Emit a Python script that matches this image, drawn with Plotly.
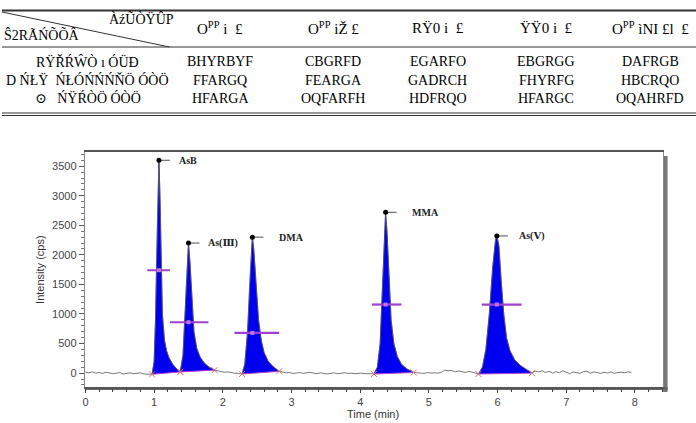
import plotly.graph_objects as go

W, H = 696, 423

# ---------------- data ----------------
peak_names = ["AsB", "As(Ⅲ)", "DMA", "MMA", "As(Ⅴ)"]

asb_t = [0.97, 1.00, 1.02, 1.04, 1.055, 1.07, 1.085, 1.10, 1.12, 1.15, 1.18, 1.22, 1.27, 1.32, 1.38]
asb_y = [-20, 200, 900, 2200, 3300, 3600, 3000, 1800, 1000, 560, 380, 250, 150, 80, 20]

as3_t = [1.38, 1.42, 1.45, 1.48, 1.50, 1.52, 1.55, 1.58, 1.62, 1.67, 1.73, 1.80, 1.88]
as3_y = [20, 300, 1000, 1900, 2200, 1900, 1200, 700, 420, 270, 170, 100, 50]

dma_t = [2.28, 2.32, 2.36, 2.39, 2.42, 2.43, 2.45, 2.48, 2.52, 2.56, 2.60, 2.66, 2.73, 2.82]
dma_y = [-15, 150, 700, 1500, 2250, 2300, 2100, 1500, 900, 550, 350, 200, 110, 30]

mma_t = [4.20, 4.25, 4.29, 4.32, 4.35, 4.37, 4.39, 4.42, 4.45, 4.49, 4.54, 4.60, 4.68, 4.78]
mma_y = [-15, 100, 500, 1300, 2300, 2720, 2400, 1600, 900, 500, 280, 150, 70, 10]

as5_t = [5.72, 5.78, 5.83, 5.88, 5.93, 5.97, 5.99, 6.02, 6.05, 6.09, 6.13, 6.18, 6.25, 6.33, 6.42, 6.50]
as5_y = [-15, 100, 400, 1000, 1800, 2250, 2320, 2150, 1600, 1000, 600, 380, 220, 130, 60, 0]

base_t = [0.00, 0.05, 0.10, 0.15, 0.20, 0.25, 0.30, 0.35, 0.40, 0.45, 0.50, 0.55, 0.60, 0.65,
          0.70, 0.75, 0.80, 0.85, 0.90, 0.94,
          1.92, 1.97, 2.02, 2.07, 2.12, 2.17, 2.22, 2.26,
          2.87, 2.92, 2.97, 3.02, 3.07, 3.12, 3.17, 3.22, 3.27, 3.32, 3.37, 3.42, 3.47, 3.52,
          3.57, 3.62, 3.67, 3.72, 3.77, 3.82, 3.87, 3.92, 3.97, 4.02, 4.07, 4.12, 4.17,
          4.83, 4.88, 4.93, 4.98, 5.03, 5.08, 5.13, 5.18, 5.23, 5.28, 5.33, 5.38, 5.43, 5.48,
          5.53, 5.58, 5.63, 5.68,
          6.55, 6.60, 6.65, 6.70, 6.75, 6.80, 6.85, 6.90, 6.95, 7.00, 7.05, 7.10, 7.15, 7.20,
          7.25, 7.30, 7.35, 7.40, 7.45, 7.50, 7.55, 7.60, 7.65, 7.70, 7.75, 7.80, 7.85, 7.90, 7.95]
base_y = [15, 5, 20, 0, 10, -5, 15, 5, -10, 0, 10, -15, 0, 5,
          -10, -5, 5, -15, -20, -25,
          40, 25, 15, 20, 5, 0, -5, -10,
          20, 5, 10, -5, 0, 10, -5, 5, 15, 0, -10, 5, 0, -15,
          -5, 5, -10, 0, 5, -5, 0, -10, -5, 0, -10, -5, -10,
          5, 0, -5, 10, 0, 5, 0, 10, 50, 40, 45, 20, 35, 25,
          10, 30, 20, 0,
          35, 20, 40, 10, 30, 0, 25, 5, 40, 15, -10, 20, 5, -5,
          25, 30, 0, 20, 10, -5, 15, 0, 20, -5, 10, 15, 5, 20, 15]

half_y = [1740, 860, 680, 1160, 1160]
half_lo = [0.90, 1.23, 2.17, 4.17, 5.77]
half_hi = [1.23, 1.79, 2.82, 4.60, 6.35]

x_ticks = [0, 1, 2, 3, 4, 5, 6, 7, 8]
y_ticks = [0, 500, 1000, 1500, 2000, 2500, 3000, 3500]

# table text (as rendered in the picture)
tbl_corner_top = "ÀźŨÒŸÛP"
tbl_corner_bot = "Ŝ2RÃŃÕÕÂ"
tbl_headers = ["O<sup>PP</sup> i  £", "O<sup>PP</sup> iŽ £", "RŸ0 i  £", "ŸŸ0 i  £", "O<sup>PP</sup> ìNI £l  £"]
tbl_rows = ["RŸŘŔŴÒ ı ÓÜÐ", "D ŃŁŸ  ŃŁÓŃŃŃŇÖ ÓÒÖ", "⊙   ŃŸŔÒÖ ÓÒÖ"]
tbl_vals = [["BHYRBYF", "CBGRFD", "EGARFO", "EBGRGG", "DAFRGB"],
            ["FFARGQ", "FEARGA", "GADRCH", "FHYRFG", "HBCRQO"],
            ["HFARGA", "OQFARFH", "HDFRQO", "HFARGC", "OQAHRFD"]]

peaks_t = [asb_t, as3_t, dma_t, mma_t, as5_t]
peaks_y = [asb_y, as3_y, dma_y, mma_y, as5_y]

# ---------------- helpers ----------------
def px(x):
    return x / W

def py(y):
    return 1 - y / H

fig = go.Figure()

# blue filled peaks
for t, y in zip(peaks_t, peaks_y):
    fig.add_trace(go.Scatter(x=t, y=y, mode="lines", fill="toself",
                             fillcolor="#0000f0", line=dict(color="#1010d0", width=0.6),
                             hoverinfo="skip", showlegend=False))

# full signal trace (black)
pts = list(zip(base_t, base_y))
for t, y in zip(peaks_t, peaks_y):
    pts += list(zip(t, y))
pts.sort()
fig.add_trace(go.Scatter(x=[p[0] for p in pts], y=[p[1] for p in pts], mode="lines",
                         line=dict(color="#555555", width=0.8), showlegend=False))

# integration baselines and start/end marks
for t, y in zip(peaks_t, peaks_y):
    fig.add_trace(go.Scatter(x=[t[0], t[-1]], y=[y[0], y[-1]], mode="lines",
                             line=dict(color="#b040d0", width=1), showlegend=False))
    fig.add_trace(go.Scatter(x=[t[0], t[-1]], y=[y[0], y[-1]], mode="markers",
                             marker=dict(symbol="x-thin", size=6,
                                         line=dict(color="#e07070", width=1)),
                             showlegend=False))

# half-height bars
for i in range(5):
    t, y = peaks_t[i], peaks_y[i]
    apex_t = t[y.index(max(y))]
    fig.add_trace(go.Scatter(x=[half_lo[i], half_hi[i]], y=[half_y[i], half_y[i]], mode="lines",
                             line=dict(color="#a040d0", width=2.2), showlegend=False))
    fig.add_trace(go.Scatter(x=[apex_t], y=[half_y[i]], mode="markers",
                             marker=dict(symbol="square", size=4, color="#c070e0"),
                             showlegend=False))

# apex labels
label_off = [0.27, 0.25, 0.36, 0.35, 0.30]
annotations = []
for i in range(5):
    t, y = peaks_t[i], peaks_y[i]
    h = max(y)
    apex_t = t[y.index(h)]
    fig.add_trace(go.Scatter(x=[apex_t, apex_t + 0.16], y=[h, h], mode="lines",
                             line=dict(color="#222222", width=0.8), showlegend=False))
    fig.add_trace(go.Scatter(x=[apex_t], y=[h], mode="markers",
                             marker=dict(size=5, color="black"), showlegend=False))
    annotations.append(dict(x=apex_t + label_off[i], y=h, xref="x", yref="y",
                            text="<b>" + peak_names[i] + "</b>", showarrow=False,
                            xanchor="left", yanchor="middle",
                            font=dict(family="Liberation Serif, DejaVu Serif", size=10, color="#222")))

# ---------------- table ----------------
shapes = []
line_c = "#333333"
shapes.append(dict(type="line", xref="paper", yref="paper", x0=0, x1=1, y0=py(10.5), y1=py(10.5),
                   line=dict(color=line_c, width=1.8)))
shapes.append(dict(type="line", xref="paper", yref="paper", x0=0, x1=1, y0=py(47), y1=py(47),
                   line=dict(color=line_c, width=1)))
shapes.append(dict(type="line", xref="paper", yref="paper", x0=0, x1=1, y0=py(113), y1=py(113),
                   line=dict(color=line_c, width=1)))
shapes.append(dict(type="line", xref="paper", yref="paper", x0=0, x1=1, y0=py(115.5), y1=py(115.5),
                   line=dict(color=line_c, width=1)))
shapes.append(dict(type="line", xref="paper", yref="paper", x0=0, x1=px(168), y0=py(12), y1=py(47),
                   line=dict(color=line_c, width=1)))

tfont = dict(family="Liberation Serif, DejaVu Serif", size=14, color="black")
annotations.append(dict(x=px(175), y=py(19), xref="paper", yref="paper", text=tbl_corner_top,
                        showarrow=False, xanchor="right", yanchor="middle", font=tfont))
annotations.append(dict(x=px(0), y=py(35), xref="paper", yref="paper", text=tbl_corner_bot,
                        showarrow=False, xanchor="left", yanchor="middle", font=tfont))
col_x = [219, 332, 437, 546, 650]
row_y = [62, 80, 98]
hfont = dict(family="Liberation Serif, DejaVu Serif", size=15, color="black")
for j, hdr in enumerate(tbl_headers):
    annotations.append(dict(x=px(col_x[j]), y=py(28), xref="paper", yref="paper", text=hdr,
                            showarrow=False, xanchor="center", yanchor="middle", font=hfont))
for r in range(3):
    annotations.append(dict(x=px(86), y=py(row_y[r]), xref="paper", yref="paper", text=tbl_rows[r],
                            showarrow=False, xanchor="center", yanchor="middle", font=tfont))
    for j in range(5):
        annotations.append(dict(x=px(col_x[j]), y=py(row_y[r]), xref="paper", yref="paper",
                                text=tbl_vals[r][j], showarrow=False, xanchor="center",
                                yanchor="middle",
                                font=dict(family="Liberation Sans Narrow, Liberation Serif",
                                          size=14, color="black")))

# chart frame shadow
shapes.append(dict(type="rect", xref="paper", yref="paper", x0=px(663), x1=px(667.5),
                   y0=py(392), y1=py(156), fillcolor="#777777", line=dict(width=0), layer="below"))
shapes.append(dict(type="rect", xref="paper", yref="paper", x0=px(84), x1=px(667.5),
                   y0=py(390), y1=py(387), fillcolor="#666666", line=dict(width=0), layer="below"))

# axis titles
afont = dict(family="Arial, Liberation Sans", size=11, color="#333")
annotations.append(dict(x=px(38), y=py(270), xref="paper", yref="paper", text="Intensity (cps)",
                        textangle=-90, showarrow=False, xanchor="center", yanchor="middle",
                        font=afont))
annotations.append(dict(x=px(372), y=py(414), xref="paper", yref="paper", text="Time (min)",
                        showarrow=False, xanchor="center", yanchor="middle", font=afont))

fig.update_layout(
    width=W, height=H, margin=dict(l=0, r=0, t=0, b=0),
    paper_bgcolor="white", plot_bgcolor="white",
    showlegend=False, shapes=shapes, annotations=annotations,
    xaxis=dict(domain=[px(83), px(663)], range=[-0.01, 8.41], tickvals=x_ticks,
               ticks="outside", ticklen=4, tickcolor="#444", tickwidth=1,
               minor=dict(dtick=0.2, ticks="outside", ticklen=3, tickcolor="#444"),
               showline=True, linecolor="#555", linewidth=1.5, mirror=True,
               showgrid=False, zeroline=False,
               tickfont=dict(family="Arial, Liberation Sans", size=11, color="#444")),
    yaxis=dict(domain=[py(387), py(152)], range=[-235, 3740], tickvals=y_ticks,
               ticks="outside", ticklen=5, tickcolor="#555", tickwidth=1,
               minor=dict(dtick=100, ticks="outside", ticklen=3, tickcolor="#777"),
               showline=True, linecolor="#888", linewidth=1, mirror=True,
               showgrid=False, zeroline=False,
               tickfont=dict(family="Arial, Liberation Sans", size=11, color="#444")),
)

fig.write_html("out.html")
